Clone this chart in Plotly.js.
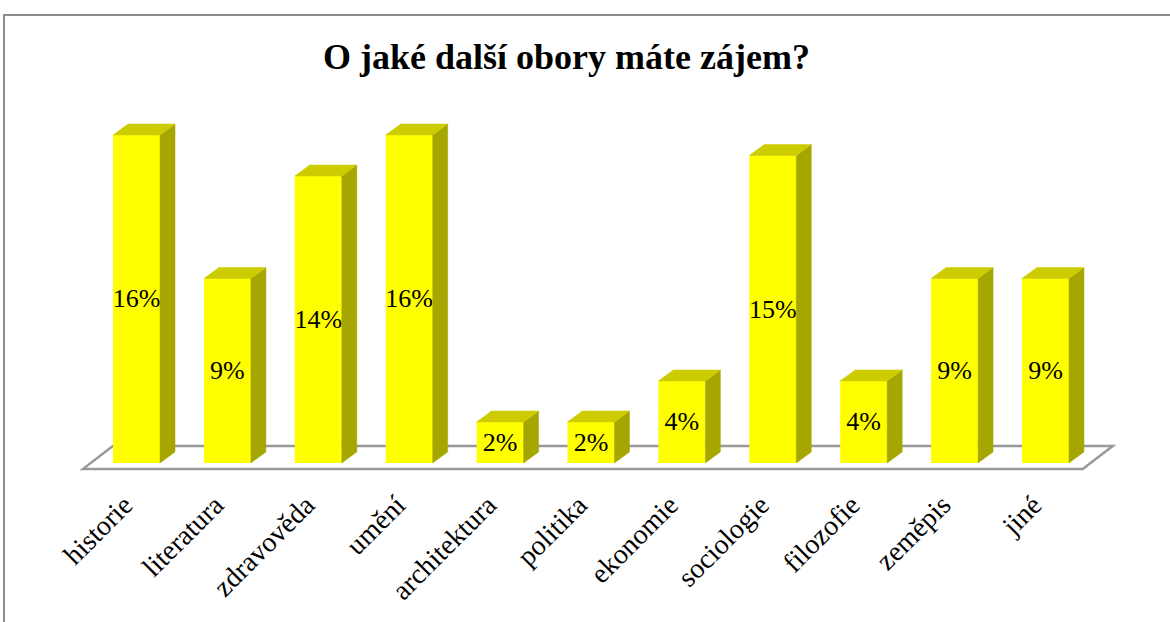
<!DOCTYPE html>
<html>
<head>
<meta charset="utf-8">
<script src="https://cdn.plot.ly/plotly-3.0.1.min.js"></script>
<style>
  html, body { margin: 0; padding: 0; background: #fff; }
  #wrap { position: relative; width: 1170px; height: 622px; overflow: hidden; }
  #chart { position: absolute; left: 0; top: 0; width: 1170px; height: 622px; }
  #frame { position: absolute; left: 3px; top: 14px; width: 1200px; height: 700px;
           border-left: 2px solid #8c8c8c; border-top: 2px solid #8c8c8c; pointer-events: none; }
</style>
</head>
<body>
<div id="wrap">
  <div id="chart"></div>
  <div id="frame"></div>
</div>
<script>
// ---- data ----
const categories = ["historie", "literatura", "zdravověda", "umění", "architektura", "politika",
                    "ekonomie", "sociologie", "filozofie", "zeměpis", "jiné"];
const values = [16, 9, 14, 16, 2, 2, 4, 15, 4, 9, 9];
const labels = ["16%", "9%", "14%", "16%", "2%", "2%", "4%", "15%", "4%", "9%", "9%"];
const chartTitle = "O jaké další obory máte zájem?";

// ---- geometry (style) ----
const xIdx = categories.map((c, i) => i);
const barW = 0.517;          // front face width in category units
const hw = barW / 2;
const dX = 0.165;            // depth offset (x units)
const dY = 0.537;            // depth offset (y units)

const sideX = [], sideY = [], topX = [], topY = [];
values.forEach((v, i) => {
  sideX.push(i + hw, i + hw + dX, i + hw + dX, i + hw, i + hw, null);
  sideY.push(0, dY, v + dY, v, 0, null);
  topX.push(i - hw, i + hw, i + hw + dX, i - hw + dX, i - hw, null);
  topY.push(v, v, v + dY, v + dY, v, null);
});

const n = categories.length;
const floorPath = `M ${-0.588} ${-0.29} L ${n - 1 + 0.41} ${-0.29} L ${n - 1 + 0.74} ${0.83} L ${-0.26} ${0.83} Z`;

const serif = "Liberation Serif, Times New Roman, serif";

const traces = [
  {
    type: "bar",
    x: xIdx,
    y: values,
    width: barW,
    text: labels,
    textposition: "inside",
    insidetextanchor: "middle",
    constraintext: "none",
    textangle: 0,
    textfont: { family: serif, size: 26, color: "#000" },
    marker: { color: "#ffff00", line: { width: 0 } },
    hoverinfo: "skip",
    showlegend: false
  },
  {
    type: "scatter",
    mode: "lines",
    x: sideX, y: sideY,
    fill: "toself",
    fillcolor: "#a6a600",
    line: { width: 0.5, color: "#a6a600" },
    hoverinfo: "skip",
    showlegend: false
  },
  {
    type: "scatter",
    mode: "lines",
    x: topX, y: topY,
    fill: "toself",
    fillcolor: "#cccc00",
    line: { width: 0.5, color: "#cccc00" },
    hoverinfo: "skip",
    showlegend: false
  }
];

const layout = {
  width: 1170,
  height: 622,
  paper_bgcolor: "#ffffff",
  plot_bgcolor: "rgba(0,0,0,0)",
  margin: { l: 70, r: 50, t: 94, b: 140 },
  title: {
    text: "<b>" + chartTitle + "</b>",
    font: { family: serif, size: 36, color: "#000" },
    x: 0.4842, xanchor: "center", xref: "container",
    y: 0.91, yanchor: "middle", yref: "container"
  },
  xaxis: {
    range: [-0.7316, 10.82],
    tickmode: "array",
    tickvals: xIdx,
    ticktext: categories,
    tickangle: -45,
    ticks: "",
    ticklabelshift: -12,
    showgrid: false,
    zeroline: false,
    showline: false,
    fixedrange: true,
    tickfont: { family: serif, size: 28, color: "#000" }
  },
  yaxis: {
    range: [-0.93, 18.0],
    showgrid: false,
    zeroline: false,
    showline: false,
    showticklabels: false,
    ticks: "",
    fixedrange: true
  },
  shapes: [
    {
      type: "path",
      xref: "x", yref: "y",
      path: floorPath,
      layer: "below",
      line: { color: "#999999", width: 2.5 },
      fillcolor: "rgba(0,0,0,0)"
    }
  ],
  showlegend: false
};

Plotly.newPlot("chart", traces, layout, { displayModeBar: false, staticPlot: true });
</script>
</body>
</html>
